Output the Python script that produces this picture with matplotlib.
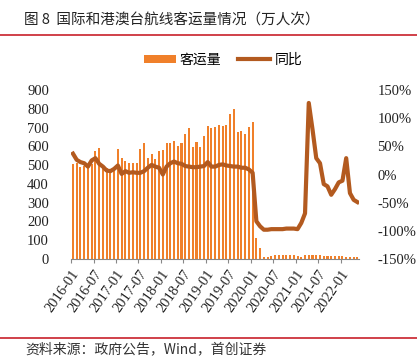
import matplotlib
matplotlib.use("Agg")
import matplotlib.pyplot as plt
import numpy as np
from matplotlib.lines import Line2D
from matplotlib.patches import Patch

plt.rcParams['font.family'] = ['Noto Sans CJK SC', 'DejaVu Sans']

# ---- data ----
months = [f"{y}-{m:02d}" for y in range(2016, 2023) for m in range(1, 13)][:77]
passengers = [506, 513, 491, 497, 491, 505, 575, 593, 497, 483, 460, 474,
              584, 540, 522, 513, 510, 513, 586, 616, 540, 559, 532, 577,
              581, 620, 620, 628, 601, 616, 667, 699, 595, 622, 598, 657,
              708, 696, 705, 714, 710, 714, 772, 797, 678, 683, 664, 705,
              728, 114, 60, 8, 10, 14, 19, 21, 21, 22, 21, 20,
              16, 13, 19, 20, 21, 21, 20, 17, 16, 16, 15, 16,
              15, 12, 13, 10, 10]
yoy = [37, 26, 22, 20, 14, 25, 29, 19, 14, 7, 6, 10,
       16, 1, 6, 3, 4, 3, 3, 6, 12, 17, 14, 12,
       0, 14, 20, 23, 20, 19, 15, 14, 13, 13, 14, 15,
       22, 14, 14, 17, 18, 16, 15, 14, 14, 12, 12, 9,
       3, -83, -92, -98, -98, -97, -97, -97, -97, -96, -96, -96,
       -97, -86, -69, 127, 80, 29, 20, -17, -21, -36, -26, -14,
       -11, 29, -33, -45, -49]
tick_labels = months[::6]
left_ticks = list(range(0, 901, 100))
right_ticks = list(range(-150, 151, 50))

title = "图 8  国际和港澳台航线客运量情况（万人次）"
source = "资料来源：政府公告，Wind，首创证券"

bar_color = "#F0802A"
line_color = "#B35A1F"
serif = ['Liberation Serif', 'DejaVu Serif']

W, H = 417, 358
fig = plt.figure(figsize=(W / 100, H / 100), dpi=100)
ax = fig.add_axes([71.1 / W, 1 - 259 / H, (359.3 - 71.1) / W, (259 - 90) / H])

x = np.arange(len(passengers))
bars = ax.bar(x, passengers, width=0.55, color=bar_color, zorder=2)
ax.set_xlim(-0.5, len(passengers) - 0.5)
ax.set_ylim(0, 900)
ax.set_yticks(left_ticks)
ax.set_yticklabels([str(v) for v in left_ticks], family=serif, fontsize=10.5, color="#222222")
tick_pos = np.arange(0, len(passengers), 6) - 0.5
ax.set_xticks(tick_pos)
ax.set_xticklabels(tick_labels, rotation=55, ha='right', rotation_mode='anchor',
                   family=serif, fontsize=10.5, color="#222222")
ax.tick_params(axis='x', length=3, width=0.8, color="#888888", pad=3)
ax.tick_params(axis='y', length=0, pad=16)
for s in ['top', 'left', 'right']:
    ax.spines[s].set_visible(False)
ax.spines['bottom'].set_color("#888888")
ax.spines['bottom'].set_linewidth(0.8)

ax2 = ax.twinx()
line, = ax2.plot(x, yoy, color=line_color, lw=3, solid_joinstyle='round', zorder=3)
ax2.set_ylim(-150, 150)
ax2.set_yticks(right_ticks)
ax2.set_yticklabels([f"{v}%" for v in right_ticks], family=serif, fontsize=10.5, color="#222222")
ax2.tick_params(axis='y', length=0, pad=13)
for s in ['top', 'left', 'right', 'bottom']:
    ax2.spines[s].set_visible(False)

handles = [Patch(facecolor=bar_color, edgecolor='none'),
           Line2D([0], [0], color=line_color, lw=3)]
fig.legend(handles, ["客运量", "同比"], loc='center', bbox_to_anchor=(223 / W, 1 - 60 / H),
           ncol=2, frameon=False, fontsize=10, handlelength=2.3, handleheight=0.55,
           handletextpad=0.3, columnspacing=1.2)

fig.text(24 / W, 1 - 21 / H, title, fontsize=10.5, va='center', ha='left', color="#222222")
fig.add_artist(Line2D([0, 1], [1 - 35 / H, 1 - 35 / H], color="#C8202A", lw=1.2,
                      transform=fig.transFigure))
fig.add_artist(Line2D([0, 1], [1 - 338 / H, 1 - 338 / H], color="#C8202A", lw=1.2,
                      transform=fig.transFigure))
fig.text(25 / W, 1 - 349 / H, source, fontsize=10, va='center', ha='left',
         color="#333333", style='italic')

fig.savefig("out.png", dpi=100)
